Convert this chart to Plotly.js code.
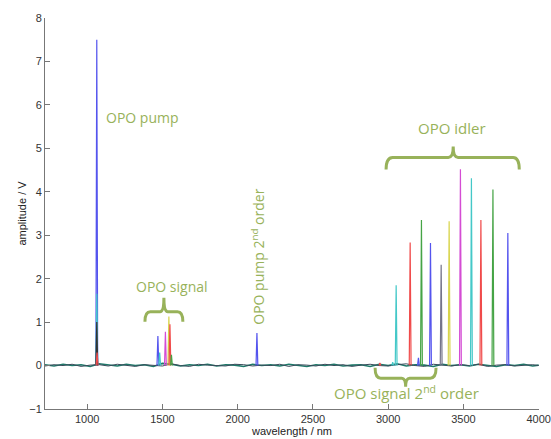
<!DOCTYPE html>
<html><head><meta charset="utf-8">
<script src="https://cdn.plot.ly/plotly-3.0.1.min.js"></script>
<style>html,body{margin:0;padding:0;background:#fff}#chart{width:551px;height:439px}</style>
</head><body><div id="chart"></div>
<script>
// Peak spectra: wavelength (nm), amplitude (V), colour name
const peakWavelength = [1064, 1064, 1064, 1066, 1470, 1482, 1520, 1543, 1550, 1560, 2128, 2945, 3030, 3201, 3053, 3146, 3221, 3281, 3352, 3405, 3480, 3553, 3616, 3696, 3795];
const peakAmplitude  = [7.5,  1.65, 1.0,  0.3,  0.68, 0.3,  0.78, 1.13, 0.95, 0.25, 0.75, 0.06, 0.08, 0.18, 1.85, 2.83, 3.35, 2.82, 2.32, 3.32, 4.52, 4.31, 3.35, 4.05, 3.05];
const peakColorName  = ['blue','cyan','black','red','blue','cyan','magenta','yellow','red','green','blue','red','cyan','blue','cyan','red','green','blue','gray','yellow','magenta','cyan','red','green','blue'];

// Baseline noise traces
const baseX = [720,780,840,900,960,1020,1080,1140,1200,1260,1320,1380,1440,1500,1560,1620,1680,1740,1800,1860,1920,1980,2040,2100,2160,2220,2280,2340,2400,2460,2520,2580,2640,2700,2760,2820,2880,2940,3000,3060,3120,3180,3240,3300,3360,3420,3480,3540,3600,3660,3720,3780,3840,3900,3960,4000];
const baseA = [0.02,-0.01,0.03,0.00,0.02,-0.02,0.04,0.01,-0.01,0.03,0.00,0.02,-0.02,0.05,0.03,-0.01,0.02,0.00,0.03,-0.01,0.02,0.01,-0.02,0.03,0.00,0.02,-0.01,0.03,0.01,-0.02,0.02,0.00,0.03,-0.01,0.01,0.02,-0.02,0.03,0.00,0.04,-0.01,0.02,0.01,-0.02,0.03,0.00,0.02,-0.01,0.03,0.01,-0.02,0.02,0.00,0.03,-0.01,0.01];
const baseB = [-0.01,0.02,0.00,0.03,-0.02,0.01,0.02,-0.01,0.03,0.00,-0.02,0.02,0.01,-0.01,0.04,0.00,-0.02,0.03,0.01,0.00,-0.01,0.03,0.02,-0.01,0.01,0.00,0.03,-0.02,0.02,0.01,-0.01,0.03,0.00,0.02,-0.02,0.01,0.03,0.00,-0.01,0.02,0.04,0.00,-0.02,0.03,0.01,-0.01,0.02,0.00,0.03,-0.02,0.01,0.02,-0.01,0.00,0.02,0.00];

// x-axis tick labels
const xTickVals = [1000, 1500, 2000, 2500, 3000, 3500, 4000];
const xTickText = ['1000', '1500', '2000', '2500', '3000', '3500', '4000'];

const palette = {blue:'#5454ee', cyan:'#44c8c8', black:'#333333', red:'#f04a4a', magenta:'#d44cd4', yellow:'#d8d44a', green:'#46a446', gray:'#74748a'};
const halfWidth = 6;

const traces = [];
traces.push({x: baseX, y: baseA, mode:'lines', line:{color:'#1f7a6a', width:1.6}, hoverinfo:'skip'});
traces.push({x: baseX, y: baseB, mode:'lines', line:{color:'#3a4a5a', width:1}, hoverinfo:'skip'});
for (let i = 0; i < peakWavelength.length; i++) {
  const w = peakWavelength[i];
  traces.push({
    x: [w - halfWidth, w, w + halfWidth],
    y: [0, peakAmplitude[i], 0],
    mode: 'lines',
    line: {color: palette[peakColorName[i]], width: 1.2},
    hoverinfo: 'skip'
  });
}

const green = '#98b25a';
const bw = 3;
const shapes = [
  {type:'path', xref:'x', yref:'y', line:{color:green, width:bw},
   path:'M 1384,1.01 Q 1384,1.24 1420,1.24 L 1485,1.24 Q 1510,1.24 1510,1.56 Q 1510,1.24 1535,1.24 L 1600,1.24 Q 1636,1.24 1636,1.01'},
  {type:'path', xref:'x', yref:'y', line:{color:green, width:bw},
   path:'M 2986,4.51 Q 2986,4.79 3030,4.79 L 3400,4.79 Q 3432,4.79 3432,5.04 Q 3432,4.79 3464,4.79 L 3830,4.79 Q 3871,4.79 3871,4.51'},
  {type:'path', xref:'x', yref:'y', line:{color:green, width:bw},
   path:'M 2913,-0.05 Q 2913,-0.29 2950,-0.29 L 3090,-0.29 Q 3116,-0.29 3116,-0.49 Q 3116,-0.29 3142,-0.29 L 3280,-0.29 Q 3318,-0.29 3318,-0.05'}
];

const annFont = {family:'Open Sans, sans-serif', size:14, color:green};
const annFontL = {family:'Open Sans, sans-serif', size:15, color:green};
const annotations = [
  {x:1110, y:5.7, xanchor:'left', yanchor:'middle', text:'OPO pump', showarrow:false, font:annFont},
  {x:1565, y:1.81, xanchor:'center', yanchor:'middle', text:'OPO signal', showarrow:false, font:annFont},
  {x:2130, y:2.51, xanchor:'center', yanchor:'middle', text:'OPO pump 2<sup>nd</sup> order', textangle:-90, showarrow:false, font:annFont},
  {x:3425, y:5.47, xanchor:'center', yanchor:'middle', text:'OPO idler', showarrow:false, font:annFontL},
  {x:3119, y:-0.63, xanchor:'center', yanchor:'middle', text:'OPO signal 2<sup>nd</sup> order', showarrow:false, font:annFontL}
];

const axisCommon = {showgrid:false, zeroline:false, showline:true, linecolor:'#777', linewidth:1,
  ticks:'inside', ticklen:5, tickcolor:'#777', ticklabeloverflow:'allow',
  tickfont:{family:'Liberation Sans, Arial, sans-serif', size:11, color:'#333'}};

const layout = {
  width:551, height:439,
  margin:{l:45, r:12, t:18, b:30},
  paper_bgcolor:'#fff', plot_bgcolor:'#fff',
  showlegend:false,
  xaxis: Object.assign({}, axisCommon, {range:[720, 4002], tickmode:'array', tickvals:xTickVals, ticktext:xTickText,
    title:{text:'wavelength / nm', font:{family:'Liberation Sans, Arial, sans-serif', size:11, color:'#222'}, standoff:2}}),
  yaxis: Object.assign({}, axisCommon, {range:[-1, 8], tickmode:'array', tickvals:[-1,0,1,2,3,4,5,6,7,8],
    title:{text:'amplitude / V', font:{family:'Liberation Sans, Arial, sans-serif', size:11, color:'#222'}, standoff:0}}),
  shapes: shapes,
  annotations: annotations
};

Plotly.newPlot('chart', traces, layout, {displayModeBar:false, staticPlot:true});
</script>
</body></html>
